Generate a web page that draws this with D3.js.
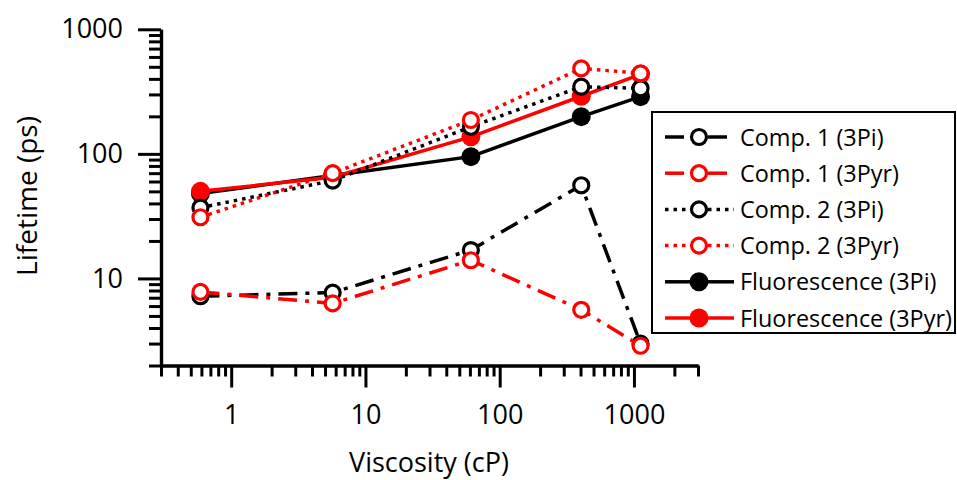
<!DOCTYPE html>
<html lang="en">
    <head>
        <meta charset="utf-8">
        <title>Lifetime vs viscosity</title>
        <script type="text/javascript" src="https://cdn.jsdelivr.net/npm/d3@7/dist/d3.min.js"></script>
        <style>
          body { margin: 0; background: #fff; }
          text { font-family: "Open Sans", sans-serif; fill: #000; }
        </style>
    </head>
    <body>

        <script type="text/javascript">
          // data
          var viscosity   = [0.59, 5.7, 61, 405, 1120];
          var comp1_3Pi   = [7.2, 7.7, 16.9, 56, 3.0];
          var comp1_3Pyr  = [7.8, 6.3, 14, 5.6, 2.88];
          var comp2_3Pi   = [37, 61, 165, 346, 336];
          var comp2_3Pyr  = [31, 70, 187, 486, 443];
          var fluor_3Pi   = [48, 67, 95, 199, 288];
          var fluor_3Pyr  = [50, 65, 137, 290, 435];

          var xTickLabels = [1, 10, 100, 1000];
          var yTickLabels = [10, 100, 1000];

          var w = 957;
          var h = 480;

          var svg = d3.select("body")
            .append("svg")
            .attr("width", w)
            .attr("height", h);

          var x = d3.scaleLog().domain([0.3, 3000]).range([161, 698]);
          var y = d3.scaleLog().domain([2, 1000]).range([365.5, 29.3]);

          // minor ticks: 2..9 of every decade inside the domain
          var xMinor = [], yMinor = [];
          [0.1, 1, 10, 100, 1000].forEach(function(d) {
            for (var k = 2; k <= 9; k++) {
              var v = +(d * k).toPrecision(3);
              if (v >= 0.3 && v <= 3000) xMinor.push(v);
            }
          });
          [1, 10, 100].forEach(function(d) {
            for (var k = 2; k <= 9; k++) yMinor.push(d * k);
          });

          // x axis (minor and major in their own groups)
          svg.append("g").attr("class", "minor").attr("transform", "translate(0,365.5)")
             .call(d3.axisBottom(x).tickValues(xMinor).tickSize(11).tickSizeOuter(0).tickFormat(""));
          svg.append("g").attr("class", "major").attr("transform", "translate(0,365.5)")
             .call(d3.axisBottom(x).tickValues(xTickLabels).tickSize(22).tickSizeOuter(0)
                .tickFormat(d3.format("d")).tickPadding(17));

          // y axis
          svg.append("g").attr("class", "minor").attr("transform", "translate(161,0)")
             .call(d3.axisLeft(y).tickValues(yMinor).tickSize(12).tickSizeOuter(0).tickFormat(""));
          svg.append("g").attr("class", "major").attr("transform", "translate(161,0)")
             .call(d3.axisLeft(y).tickValues(yTickLabels).tickSize(23).tickSizeOuter(0)
                .tickFormat(d3.format("d")).tickPadding(15));

          svg.selectAll(".domain").attr("stroke", "#000").attr("stroke-width", 3.2);
          svg.selectAll(".tick line").attr("stroke", "#000").attr("stroke-width", 3);
          svg.selectAll(".tick text").attr("font-size", "27px").attr("fill", "#000")
             .attr("font-family", null);

          // axis titles
          svg.append("text")
             .attr("x", 429).attr("y", 472)
             .attr("text-anchor", "middle")
             .attr("font-size", "27px")
             .text("Viscosity (cP)");

          svg.append("text")
             .attr("transform", "translate(37,196) rotate(-90)")
             .attr("text-anchor", "middle")
             .attr("font-size", "28px")
             .text("Lifetime (ps)");

          var dashDot = "19,8,4,8";
          var dotted  = "3.5,5";

          var series = [
            { name: "Fluorescence (3Pi)",   vals: fluor_3Pi,  color: "#000", dash: null,    filled: true },
            { name: "Fluorescence (3Pyr)",  vals: fluor_3Pyr, color: "#f00", dash: null,    filled: true },
            { name: "Comp. 1 (3Pi)",        vals: comp1_3Pi,  color: "#000", dash: dashDot, filled: false },
            { name: "Comp. 1 (3Pyr)",       vals: comp1_3Pyr, color: "#f00", dash: dashDot, filled: false },
            { name: "Comp. 2 (3Pi)",        vals: comp2_3Pi,  color: "#000", dash: dotted,  filled: false },
            { name: "Comp. 2 (3Pyr)",       vals: comp2_3Pyr, color: "#f00", dash: dotted,  filled: false }
          ];

          var line = d3.line()
            .x(function(d, i) { return x(viscosity[i]); })
            .y(function(d) { return y(d); });

          series.forEach(function(s) {
            svg.append("path")
               .attr("d", line(s.vals))
               .attr("fill", "none")
               .attr("stroke", s.color)
               .attr("stroke-width", 3.5)
               .attr("stroke-dasharray", s.dash);

            svg.selectAll(null)
               .data(s.vals)
               .enter()
               .append("circle")
               .attr("cx", function(d, i) { return x(viscosity[i]); })
               .attr("cy", function(d) { return y(d); })
               .attr("r", s.filled ? 9.5 : 7.5)
               .attr("fill", s.filled ? s.color : "#fff")
               .attr("stroke", s.color)
               .attr("stroke-width", s.filled ? 0 : 3.2);
          });

          // legend
          var legendOrder = [2, 3, 4, 5, 0, 1];
          var lg = svg.append("g");
          lg.append("rect")
            .attr("x", 652).attr("y", 112)
            .attr("width", 303).attr("height", 221)
            .attr("fill", "#fff")
            .attr("stroke", "#000")
            .attr("stroke-width", 2);

          legendOrder.forEach(function(idx, r) {
            var s = series[idx];
            var cy = 137 + r * 36.2;
            [[665, 690], [708, 734]].forEach(function(seg) {
              lg.append("line")
                .attr("x1", seg[0]).attr("x2", seg[1])
                .attr("y1", cy).attr("y2", cy)
                .attr("stroke", s.color)
                .attr("stroke-width", 3.5)
                .attr("stroke-dasharray", s.dash);
            });
            lg.append("circle")
              .attr("cx", 699).attr("cy", cy)
              .attr("r", s.filled ? 9.5 : 7.5)
              .attr("fill", s.filled ? s.color : "#fff")
              .attr("stroke", s.color)
              .attr("stroke-width", s.filled ? 0 : 3.2);
            lg.append("text")
              .attr("x", 740).attr("y", cy + 8.5)
              .attr("font-size", "23.4px")
              .text(s.name);
          });
        </script>
    </body>
</html>
